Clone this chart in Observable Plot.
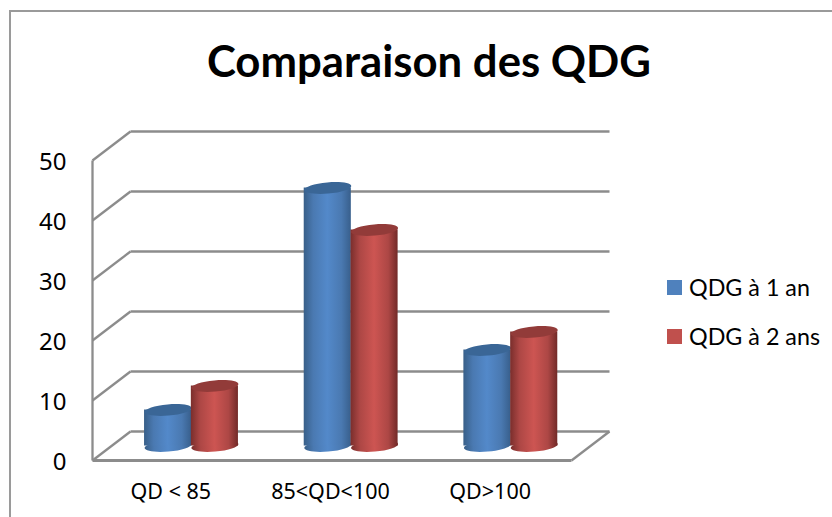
<!DOCTYPE html>
<html lang="fr">
<head>
<meta charset="utf-8">
<title>Comparaison des QDG</title>
<script src="https://cdn.jsdelivr.net/npm/d3@7"></script>
<script src="https://cdn.jsdelivr.net/npm/@observablehq/plot@0.6"></script>
<style>
  html, body { margin: 0; padding: 0; background: #fff; width: 832px; height: 517px; overflow: hidden; font-family: Lato, "Open Sans", sans-serif; }
  #page { position: relative; width: 832px; height: 517px; }
  #edge { position: absolute; left: 9px; top: 10px; right: 0; bottom: 0; border-left: 2px solid #9a9a9a; border-top: 2px solid #9a9a9a; }
  h1 { margin: 0; height: 90px; width: 858px; text-align: center; font-size: 43.7px; line-height: 121px; font-weight: 700; color: #000; position: relative; }
  #chart svg { display: block; position: relative; }
  .legend { position: absolute; left: 667px; display: flex; align-items: center; gap: 7px; font-size: 23.3px; line-height: 24px; color: #000; white-space: nowrap; }
  .legend i { display: block; width: 15px; height: 15px; }
</style>
</head>
<body>
<div id="page">
  <div id="edge"></div>
  <h1>Comparaison des QDG</h1>
  <div id="chart"></div>
  <div class="legend" style="top:275px"><i style="background:#4f81bd"></i><span>QDG à 1 an</span></div>
  <div class="legend" style="top:324px"><i style="background:#c0504d"></i><span>QDG à 2 ans</span></div>
</div>
<script>
const categories = ["QD < 85", "85<QD<100", "QD>100"];
const qdg1an = [6, 43, 16];
const qdg2ans = [10, 36, 19];
const yTicks = [0, 10, 20, 30, 40, 50];

// Oblique projection of the 3D box, in units of the chart's own x and y scales
const depthX = 0.238;
const depthY = 4.83;
const mid = 0.5;

const gridColor = "#8c8c8c";

const series = (values, start) => values.map((v, i) => ({
  x1: i + start + depthX * mid,
  x2: i + start + 0.295 + depthX * mid,
  xc: i + start + 0.1475 + depthX * mid,
  y0: depthY * mid,
  y1: v + depthY * mid
}));
const blue = series(qdg1an, 0.207);
const red = series(qdg2ans, 0.5);

// Tilted ellipse for the cylinder caps
const cap = {
  draw(ctx) {
    const rx = 23.6, ry = 5.6, a = -5 * Math.PI / 180, k = 0.5523;
    const c = Math.cos(a), s = Math.sin(a);
    const p = (u, v) => [u * rx * c - v * ry * s, u * rx * s + v * ry * c];
    ctx.moveTo(...p(1, 0));
    ctx.bezierCurveTo(...p(1, k), ...p(k, 1), ...p(0, 1));
    ctx.bezierCurveTo(...p(-k, 1), ...p(-1, k), ...p(-1, 0));
    ctx.bezierCurveTo(...p(-1, -k), ...p(-k, -1), ...p(0, -1));
    ctx.bezierCurveTo(...p(k, -1), ...p(1, -k), ...p(1, 0));
    ctx.closePath();
  }
};

const gradients = () => {
  const defs = d3.create("svg:defs");
  const add = (id, stops) => {
    const g = defs.append("linearGradient").attr("id", id).attr("x1", 0).attr("x2", 1).attr("y1", 0).attr("y2", 0);
    stops.forEach(([o, c]) => g.append("stop").attr("offset", o).attr("stop-color", c));
  };
  add("cylBlue", [[0, "#385f88"], [0.2, "#4a79b1"], [0.5, "#5389ca"], [0.8, "#4a79b1"], [1, "#385f8c"]]);
  add("cylRed", [[0, "#7a2e2c"], [0.2, "#ad4745"], [0.5, "#cd5552"], [0.8, "#ad4745"], [1, "#722a28"]]);
  return defs.node();
};

const cylinder = (rows, grad, top) => [
  Plot.dot(rows, {x: "xc", y: "y0", symbol: cap, fill: `url(#${grad})`}),
  Plot.rect(rows, {x1: "x1", x2: "x2", y1: "y0", y2: "y1", fill: `url(#${grad})`}),
  Plot.dot(rows, {x: "xc", y: "y1", symbol: cap, fill: top})
];

const frontFloor = [0];
const chart = Plot.plot({
  width: 832,
  height: 427,
  marginLeft: 92,
  marginRight: 261,
  marginTop: 70,
  marginBottom: 57,
  x: {type: "linear", domain: [0, 3]},
  y: {domain: [0, 50]},
  style: {background: "transparent", overflow: "visible", color: "#000"},
  marks: [
    gradients,
    // back wall gridlines
    Plot.link(yTicks, {x1: depthX, x2: 3 + depthX, y1: d => d + depthY, y2: d => d + depthY, stroke: gridColor, strokeWidth: 2.3}),
    // side wall diagonals
    Plot.link(yTicks, {x1: 0, x2: depthX, y1: d => d, y2: d => d + depthY, stroke: gridColor, strokeWidth: 2.3}),
    // left axis line
    Plot.link(frontFloor, {x1: 0, x2: 0, y1: 0, y2: 50, stroke: gridColor, strokeWidth: 2.3}),
    // front floor edge and right floor diagonal
    Plot.link(frontFloor, {x1: 0, x2: 3, y1: 0, y2: 0, stroke: gridColor, strokeWidth: 2.8}),
    Plot.link(frontFloor, {x1: 3, x2: 3 + depthX, y1: 0, y2: depthY, stroke: gridColor, strokeWidth: 2.3}),
    ...cylinder(blue, "cylBlue", "#3a6696"),
    ...cylinder(red, "cylRed", "#923b39"),
    Plot.axisY({ticks: yTicks, tickSize: 0, tickPadding: 26, fontSize: 24, dy: 2, label: null, marginLeft: 92}),
    Plot.axisX({
      ticks: categories.map((_, i) => i + 0.5),
      tickFormat: d => categories[Math.floor(d)],
      tickSize: 0, tickPadding: 23, fontSize: 21.5, dx: -1.5, label: null
    })
  ]
});
document.getElementById("chart").append(chart);
</script>
</body>
</html>
